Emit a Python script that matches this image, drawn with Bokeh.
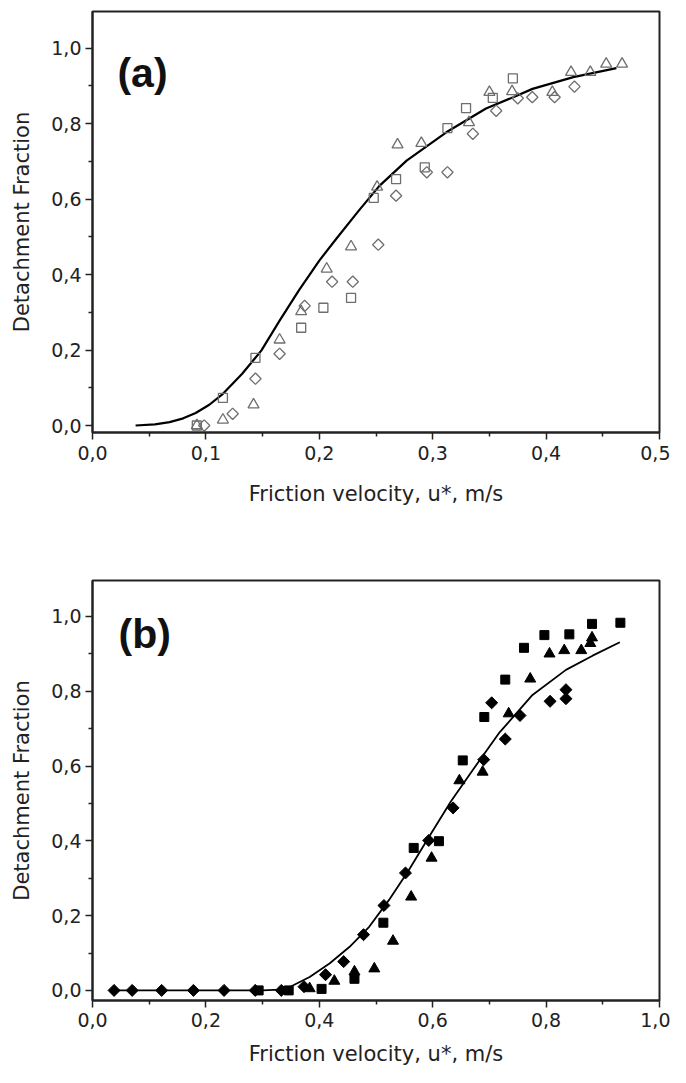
from bokeh.plotting import figure
from bokeh.layouts import column
from bokeh.models import Range1d, FixedTicker, CustomJSTickFormatter, Label
from bokeh.embed import file_html
from bokeh.resources import INLINE
import math

# ---------------- Panel (a) data ----------------
tri_a_x = [0.092, 0.115, 0.142, 0.165, 0.184, 0.2065, 0.228, 0.251, 0.269, 0.290, 0.332, 0.350, 0.370, 0.4055, 0.422, 0.439, 0.453, 0.467]
tri_a_y = [0.0, 0.015, 0.055, 0.227, 0.302, 0.415, 0.474, 0.632, 0.744, 0.748, 0.803, 0.883, 0.885, 0.883, 0.936, 0.936, 0.958, 0.958]

sq_a_x = [0.092, 0.115, 0.1437, 0.184, 0.2036, 0.228, 0.248, 0.2677, 0.293, 0.313, 0.3294, 0.353, 0.3707]
sq_a_y = [0.0, 0.073, 0.179, 0.259, 0.312, 0.338, 0.603, 0.653, 0.684, 0.788, 0.841, 0.868, 0.920]

dia_a_x = [0.0985, 0.1236, 0.1437, 0.165, 0.1871, 0.2113, 0.2295, 0.252, 0.2677, 0.2948, 0.313, 0.3354, 0.356, 0.375, 0.3878, 0.4075, 0.425]
dia_a_y = [0.0, 0.031, 0.124, 0.190, 0.317, 0.381, 0.381, 0.479, 0.609, 0.671, 0.671, 0.773, 0.834, 0.867, 0.870, 0.870, 0.898]

fit_a_x = [0.038, 0.055, 0.068, 0.080, 0.091, 0.103, 0.115, 0.132, 0.149, 0.165, 0.182, 0.200, 0.215, 0.235, 0.253, 0.277, 0.312, 0.347, 0.371, 0.388, 0.424, 0.462]
fit_a_y = [0.000, 0.003, 0.009, 0.019, 0.033, 0.055, 0.084, 0.137, 0.199, 0.278, 0.358, 0.437, 0.495, 0.570, 0.635, 0.702, 0.777, 0.840, 0.870, 0.892, 0.923, 0.947]

# ---------------- Panel (b) data ----------------
dia_b_x = [0.038, 0.070, 0.122, 0.178, 0.232, 0.287, 0.333, 0.373, 0.411, 0.443, 0.478, 0.514, 0.552, 0.593, 0.636, 0.690, 0.704, 0.728, 0.754, 0.807, 0.835, 0.835]
dia_b_y = [0.0, 0.0, 0.0, 0.0, 0.0, 0.0, 0.0, 0.010, 0.042, 0.077, 0.149, 0.227, 0.314, 0.401, 0.488, 0.617, 0.769, 0.672, 0.735, 0.773, 0.804, 0.780]

sq_b_x = [0.293, 0.346, 0.404, 0.462, 0.513, 0.5665, 0.611, 0.653, 0.691, 0.728, 0.761, 0.797, 0.841, 0.881, 0.931]
sq_b_y = [0.0, 0.0, 0.004, 0.031, 0.181, 0.381, 0.399, 0.615, 0.731, 0.831, 0.916, 0.950, 0.952, 0.980, 0.983]

tri_b_x = [0.383, 0.4265, 0.462, 0.497, 0.530, 0.562, 0.598, 0.647, 0.688, 0.734, 0.772, 0.806, 0.832, 0.862, 0.878, 0.881]
tri_b_y = [0.005, 0.025, 0.050, 0.058, 0.132, 0.250, 0.354, 0.561, 0.584, 0.740, 0.833, 0.900, 0.909, 0.909, 0.928, 0.943]

fit_b_x = [0.038, 0.100, 0.200, 0.300, 0.330, 0.348, 0.383, 0.418, 0.453, 0.488, 0.523, 0.558, 0.592, 0.632, 0.671, 0.718, 0.776, 0.835, 0.882, 0.930]
fit_b_y = [0.0, 0.0, 0.0, 0.0, 0.002, 0.009, 0.036, 0.072, 0.116, 0.170, 0.242, 0.322, 0.407, 0.505, 0.590, 0.690, 0.790, 0.857, 0.895, 0.931]

# ticks
x_ticks_a = [0.0, 0.1, 0.2, 0.3, 0.4, 0.5]
x_minor_a = [0.05, 0.15, 0.25, 0.35, 0.45]
x_ticks_b = [0.0, 0.2, 0.4, 0.6, 0.8, 1.0]
x_minor_b = [0.1, 0.3, 0.5, 0.7, 0.9]
y_ticks = [0.0, 0.2, 0.4, 0.6, 0.8, 1.0]
y_minor = [0.1, 0.3, 0.5, 0.7, 0.9]

x_title = "Friction velocity, u*, m/s"
y_title = "Detachment Fraction"

TICK_FONT = "DejaVu Sans"
fmt_code = "return tick.toFixed(1).replace('.', ',');"


def style_axes(p, xt, xm, x_lab_standoff, x_title_standoff):
    p.xaxis.ticker = FixedTicker(ticks=xt, minor_ticks=xm)
    p.yaxis.ticker = FixedTicker(ticks=y_ticks, minor_ticks=y_minor)
    for ax in (p.xaxis[0], p.yaxis[0]):
        ax.formatter = CustomJSTickFormatter(code=fmt_code)
        ax.axis_line_width = 2
        ax.axis_line_color = "#222222"
        ax.major_tick_line_width = 1.5
        ax.minor_tick_line_width = 1.5
        ax.major_tick_line_color = "#222222"
        ax.minor_tick_line_color = "#222222"
        ax.major_tick_out = 7
        ax.major_tick_in = 0
        ax.minor_tick_out = 4
        ax.minor_tick_in = 0
        ax.major_label_text_font = TICK_FONT
        ax.major_label_text_font_size = "19px"
        ax.major_label_text_color = "#222222"
        ax.axis_label_text_font = TICK_FONT
        ax.axis_label_text_font_size = "21px"
        ax.axis_label_text_font_style = "normal"
        ax.axis_label_text_color = "#222222"
    p.xaxis.major_label_standoff = x_lab_standoff
    p.yaxis.major_label_standoff = 4
    p.xaxis.axis_label = x_title
    p.yaxis.axis_label = y_title
    p.xaxis.axis_label_standoff = x_title_standoff
    p.yaxis.axis_label_standoff = 14
    p.xgrid.visible = False
    p.ygrid.visible = False
    p.outline_line_color = "#222222"
    p.outline_line_width = 2
    p.background_fill_color = "white"
    p.border_fill_color = "white"


# ---------------- figure (a) ----------------
pa = figure(width=670, height=570, output_backend="svg", toolbar_location=None,
            x_range=Range1d(0.0, 0.5), y_range=Range1d(-0.0185, 1.097),
            min_border_left=92, min_border_right=11, min_border_top=11, min_border_bottom=138)
style_axes(pa, x_ticks_a, x_minor_a, 6, 19)

gray = "#6e6e6e"
pa.line(fit_a_x, fit_a_y, line_color="black", line_width=2.2)
pa.scatter(sq_a_x, sq_a_y, marker="square", size=9, fill_color=None, line_color=gray, line_width=1.3)
pa.scatter(tri_a_x, tri_a_y, marker="triangle", size=11, fill_color=None, line_color=gray, line_width=1.3)
pa.scatter(dia_a_x, dia_a_y, marker="square", angle=math.pi / 4, size=8, fill_color=None, line_color=gray, line_width=1.3)
pa.add_layout(Label(x=0.022, y=0.935, text="(a)", text_font="Liberation Sans", text_font_size="41px",
                    text_font_style="bold", text_baseline="alphabetic", text_color="#111111"))

# ---------------- figure (b) ----------------
pb = figure(width=670, height=512, output_backend="svg", toolbar_location=None,
            x_range=Range1d(0.0, 1.0), y_range=Range1d(-0.027, 1.096),
            min_border_left=92, min_border_right=11, min_border_top=10, min_border_bottom=82)
style_axes(pb, x_ticks_b, x_minor_b, 5, 12)

pb.line(fit_b_x, fit_b_y, line_color="black", line_width=1.8)
pb.scatter(sq_b_x, sq_b_y, marker="square", size=9, fill_color="black", line_color="black")
pb.scatter(tri_b_x, tri_b_y, marker="triangle", size=11, fill_color="black", line_color="black")
pb.scatter(dia_b_x, dia_b_y, marker="square", angle=math.pi / 4, size=8.5, fill_color="black", line_color="black")
pb.add_layout(Label(x=0.046, y=0.952, text="(b)", text_font="Liberation Sans", text_font_size="41px",
                    text_font_style="bold", text_baseline="alphabetic", text_color="#111111"))

layout = column(pa, pb, spacing=0)
open("out.html", "w").write(file_html(layout, INLINE))
